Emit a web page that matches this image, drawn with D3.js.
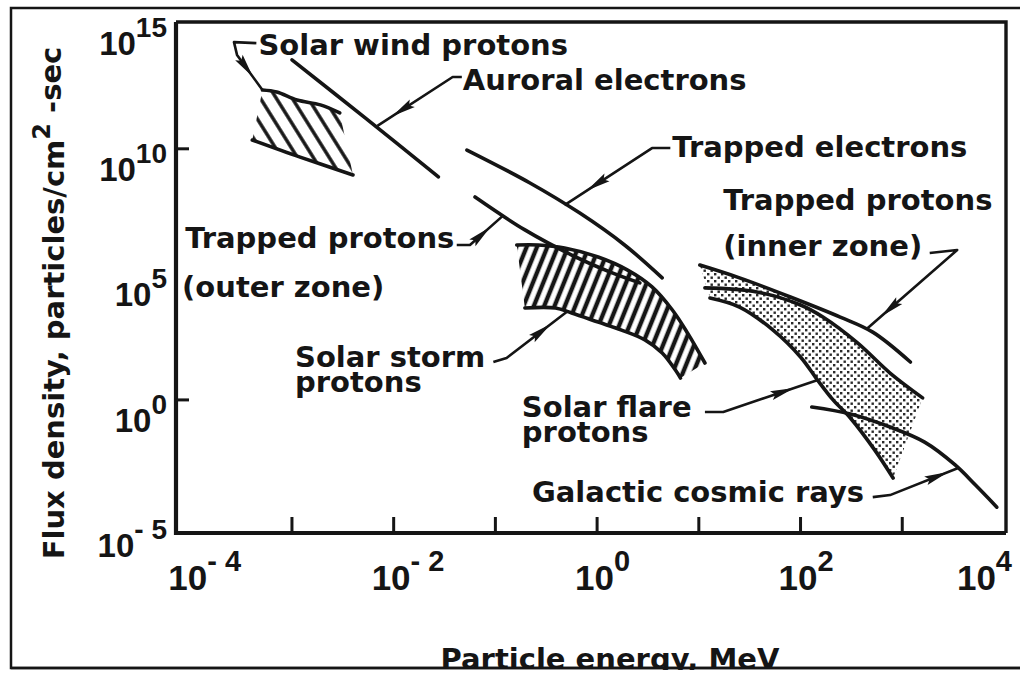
<!DOCTYPE html>
<html>
<head>
<meta charset="utf-8">
<script src="https://cdn.jsdelivr.net/npm/d3@7"></script>
<style>
  html, body { margin: 0; padding: 0; background: #fff; }
  svg { display: block; }
  .lbl  { font-family: "DejaVu Sans", sans-serif; font-weight: bold; font-size: 29px; fill: #151515; }
  .num  { font-family: "Liberation Sans", Arial, sans-serif; font-weight: bold; fill: #151515; }
</style>
</head>
<body>
<svg id="chart" width="1020" height="674"></svg>
<script>
// All values are log10 exponents
// (energy in MeV, flux in particles/cm2-sec)

// axes
const xLabelExp = [-4, -2, 0, 2, 4];
const xTickExp  = [-3, -2, -1, 0, 1, 2, 3];
const yLabelExp = [15, 10, 5, 0, -5];
const yTickExp  = [10, 0];

// Auroral electrons
const auroralE = [-3.00, -2.28, -1.56];
const auroralF = [13.54, 11.23, 8.88];

// Solar wind protons (hatched band)
const windTopE = [-3.29, -3.15, -2.95, -2.72, -2.53];
const windTopF = [12.34, 12.26, 11.94, 11.75, 11.43];
const windBotE = [-3.39, -2.92, -2.40];
const windBotF = [10.35, 9.67, 8.96];

// Trapped electrons
const trapElE = [-1.28, -0.66, -0.17, 0.27, 0.64];
const trapElF = [9.95, 8.64, 7.44, 6.17, 4.86];

// Trapped protons, outer zone
const trapOutE = [-1.20, -0.71, -0.25, 0.13, 0.42];
const trapOutF = [8.08, 6.77, 5.77, 5.09, 4.66];

// Solar storm protons (hatched band)
const stormTopE = [-0.79, -0.58, -0.32, 0.01, 0.30, 0.54, 0.74, 0.89, 1.06];
const stormTopF = [6.17, 6.17, 6.05, 5.69, 5.17, 4.50, 3.58, 2.66, 1.47];
const stormBotE = [-0.71, -0.41, -0.25, 0.01, 0.24, 0.47, 0.64, 0.77, 0.82];
const stormBotF = [3.66, 3.66, 3.46, 3.10, 2.78, 2.39, 1.87, 1.19, 0.87];

// Trapped protons, inner zone
const trapInE = [1.01, 1.40, 1.90, 2.39, 2.71, 3.08];
const trapInF = [5.37, 4.86, 4.10, 3.30, 2.70, 1.51];

// Solar flare protons (stippled band): upper and lower curves
const flareTopE = [1.06, 1.57, 2.00, 2.22, 2.56, 2.88, 3.20];
const flareTopF = [4.46, 4.30, 3.78, 3.30, 2.27, 1.07, 0.08];
const flareBotE = [1.11, 1.40, 1.73, 2.00, 2.16, 2.32, 2.49, 2.73, 2.91];
const flareBotF = [4.06, 3.70, 2.78, 1.71, 0.83, 0.00, -0.72, -2.00, -3.11];

// Galactic cosmic rays
const gcrE = [2.11, 2.49, 2.88, 3.22, 3.52, 3.72, 3.93];
const gcrF = [-0.28, -0.56, -1.08, -1.68, -2.59, -3.39, -4.27];

// labels (anchor in data exponents)
const labels = [
  { t: "Solar wind protons",   e: -3.33, f: 13.74 },
  { t: "Auroral electrons",    e: -1.32, f: 12.34 },
  { t: "Trapped electrons",    e:  0.74, f: 9.67 },
  { t: "Trapped protons",      e:  1.24, f: 7.56 },
  { t: "(inner zone)",         e:  1.24, f: 5.73 },
  { t: "Trapped protons",      e: -4.05, f: 6.05 },
  { t: "(outer zone)",         e: -4.08, f: 4.10 },
  { t: "Solar storm",          e: -2.97, f: 1.33 },
  { t: "protons",              e: -2.97, f: 0.30 },
  { t: "Solar flare",          e: -0.74, f: -0.70 },
  { t: "protons",              e: -0.74, f: -1.66 },
  { t: "Galactic cosmic rays", e: -0.64, f: -4.07 }
];

// leader lines from labels to curves, arrow wedge placed along last segment
const leaders = [
  { e: [-3.35, -3.57, -3.54, -3.29], f: [14.21, 14.25, 13.74, 12.34], at: 0.35 },
  { e: [-1.33, -1.42, -2.16],        f: [12.86, 12.86, 10.91],        at: 0.67 },
  { e: [0.72, 0.54, -0.32],          f: [10.03, 10.03, 7.76],         at: 0.63 },
  { e: [-1.38, -1.25, -0.93],        f: [6.17, 6.17, 7.32],           at: 0.35 },
  { e: [-1.02, -0.89, -0.30],        f: [1.51, 1.67, 3.50],           at: 0.58 },
  { e: [3.27, 3.54, 2.65],           f: [5.85, 5.97, 2.82],           at: 0.74 },
  { e: [1.06, 1.24, 2.17],           f: [-0.48, -0.48, 0.79],         at: 0.63 },
  { e: [2.71, 2.88, 3.55],           f: [-3.87, -3.79, -2.71],        at: 0.69 }
];

const svg = d3.select("#chart");
const W = 1020, H = 674;
const ink = "#151515";

const x = d3.scaleLog().domain([10 ** -4.14, 10 ** 4.02]).range([176, 1006]);
const y = d3.scaleLog().domain([10 ** -5.3, 10 ** 15.05]).range([533, 22]);

const pts = (es, fs) => es.map((e, i) => [x(10 ** e), y(10 ** fs[i])]);
const smooth = d3.line().curve(d3.curveCatmullRom.alpha(0.5));

// patterns
const defs = svg.append("defs");
defs.append("pattern")
    .attr("id", "hatchWind").attr("patternUnits", "userSpaceOnUse")
    .attr("width", 13.5).attr("height", 13.5)
    .attr("patternTransform", "rotate(-32)")
  .append("line")
    .attr("x1", 6.75).attr("y1", 0).attr("x2", 6.75).attr("y2", 13.5)
    .attr("stroke", ink).attr("stroke-width", 3.4);

defs.append("pattern")
    .attr("id", "hatchStorm").attr("patternUnits", "userSpaceOnUse")
    .attr("width", 9.6).attr("height", 9.6)
    .attr("patternTransform", "rotate(22)")
  .append("line")
    .attr("x1", 4.8).attr("y1", 0).attr("x2", 4.8).attr("y2", 9.6)
    .attr("stroke", ink).attr("stroke-width", 4.4);

const dots = defs.append("pattern")
    .attr("id", "dots").attr("patternUnits", "userSpaceOnUse")
    .attr("width", 7).attr("height", 7);
dots.append("rect").attr("x", 0).attr("y", 0).attr("width", 2.4).attr("height", 2.4).attr("fill", "#2a2a2a");
dots.append("rect").attr("x", 3.5).attr("y", 3.5).attr("width", 2.4).attr("height", 2.4).attr("fill", "#2a2a2a");

// outer frame
svg.append("rect")
    .attr("x", 11).attr("y", 8).attr("width", W + 20).attr("height", 660)
    .attr("fill", "none").attr("stroke", ink).attr("stroke-width", 2.5);

// band fills
function band(top, bot, fill) {
  const d = smooth(top) + smooth(bot.slice().reverse()).replace(/^M/, "L") + "Z";
  svg.append("path").attr("d", d).attr("fill", fill).attr("stroke", "none");
}
band(pts(windTopE, windTopF), pts(windBotE, windBotF), "url(#hatchWind)");
band(pts(stormTopE, stormTopF), pts(stormBotE, stormBotF), "url(#hatchStorm)");

// stipple: upper envelope is the inner-zone curve on the left, then the flare upper curve
const inner = pts(trapInE, trapInF);
const flareTop = pts(flareTopE, flareTopF);
const envelope = inner.filter(p => p[0] < flareTop[2][0] - 6).concat(flareTop.slice(2));
band(envelope, pts(flareBotE, flareBotF), "url(#dots)");

// curves
const curves = [
  [auroralE, auroralF], [windTopE, windTopF], [windBotE, windBotF],
  [trapElE, trapElF], [trapOutE, trapOutF],
  [stormTopE, stormTopF], [stormBotE, stormBotF],
  [trapInE, trapInF], [flareTopE, flareTopF], [flareBotE, flareBotF],
  [gcrE, gcrF]
];
svg.append("g")
  .selectAll("path")
  .data(curves)
  .join("path")
    .attr("d", c => smooth(pts(c[0], c[1])))
    .attr("fill", "none")
    .attr("stroke", ink)
    .attr("stroke-width", 3.6)
    .attr("stroke-linecap", "round");

// leaders with arrow wedges
leaders.forEach(l => {
  const p = pts(l.e, l.f);
  svg.append("path")
    .attr("d", d3.line()(p))
    .attr("fill", "none").attr("stroke", ink)
    .attr("stroke-width", 2.6).attr("stroke-linejoin", "round");
  const a = p[p.length - 2], b = p[p.length - 1];
  const dx = b[0] - a[0], dy = b[1] - a[1], len = Math.hypot(dx, dy);
  const ux = dx / len, uy = dy / len, nx = -uy, ny = ux;
  const cx = a[0] + dx * l.at, cy = a[1] + dy * l.at;
  const L = 24, w = 4.6;
  const tip = [cx + ux * L / 2, cy + uy * L / 2];
  const base = [cx - ux * L / 2, cy - uy * L / 2];
  svg.append("polygon")
    .attr("points", [
      tip,
      [base[0] + nx * w, base[1] + ny * w],
      [base[0] + ux * 4, base[1] + uy * 4],
      [base[0] - nx * w, base[1] - ny * w]
    ].map(q => q.join(",")).join(" "))
    .attr("fill", ink);
});

// labels
svg.append("g")
  .selectAll("text")
  .data(labels)
  .join("text")
    .attr("class", "lbl")
    .attr("x", d => x(10 ** d.e))
    .attr("y", d => y(10 ** d.f))
    .text(d => d.t);

// axes box
const x0 = x.range()[0], x1 = x.range()[1], y0 = y.range()[0], y1 = y.range()[1];
svg.append("path")
    .attr("d", `M${x0},${y1}L${x1},${y1}L${x1},${y0}`)
    .attr("fill", "none").attr("stroke", ink).attr("stroke-width", 3.4);
svg.append("path")
    .attr("d", `M${x0},${y1}L${x0},${y0}L${x1},${y0}`)
    .attr("fill", "none").attr("stroke", ink).attr("stroke-width", 4.2);

// ticks
svg.append("g").selectAll("line").data(xTickExp).join("line")
    .attr("x1", d => x(10 ** d)).attr("x2", d => x(10 ** d))
    .attr("y1", y0).attr("y2", y0 - 16)
    .attr("stroke", ink).attr("stroke-width", 3);
svg.append("g").selectAll("line").data(yTickExp).join("line")
    .attr("y1", d => y(10 ** d)).attr("y2", d => y(10 ** d))
    .attr("x1", x0).attr("x2", x0 + 13)
    .attr("stroke", ink).attr("stroke-width", 3);

const expText = d => d < 0 ? "- " + (-d) : String(d);

// y tick labels
yLabelExp.forEach(d => {
  const t = svg.append("text").attr("class", "num")
      .attr("x", 167).attr("y", y(10 ** d) + 32)
      .attr("text-anchor", "end").attr("font-size", 33);
  t.append("tspan").text("10");
  t.append("tspan").attr("dy", -18).attr("font-size", 28).text(expText(d));
});

// x tick labels
xLabelExp.forEach(d => {
  const t = svg.append("text").attr("class", "num")
      .attr("y", 590).attr("font-size", 35);
  t.append("tspan").text("10");
  t.append("tspan").attr("dy", -19).attr("font-size", 29).text(expText(d));
  const w = t.node().getComputedTextLength();
  t.attr("x", Math.min(x(10 ** d) - 22, W - 8 - w));
});

// axis titles
const yt = svg.append("text").attr("class", "lbl")
    .attr("text-anchor", "middle")
    .attr("transform", "translate(64,303) rotate(-90)");
yt.append("tspan").text("Flux density, particles/cm");
yt.append("tspan").attr("dy", -14).attr("font-size", 24).text("2");
yt.append("tspan").attr("dy", 11).text(" -sec");

svg.append("text").attr("class", "lbl")
    .attr("x", 610).attr("y", 669)
    .attr("text-anchor", "middle")
    .text("Particle energy, MeV");
svg.append("rect").attr("x", 0).attr("y", 670).attr("width", W).attr("height", 4).attr("fill", "#fff");
svg.append("line")
    .attr("x1", 11).attr("x2", W).attr("y1", 668).attr("y2", 668)
    .attr("stroke", ink).attr("stroke-width", 2.5);
</script>
</body>
</html>
